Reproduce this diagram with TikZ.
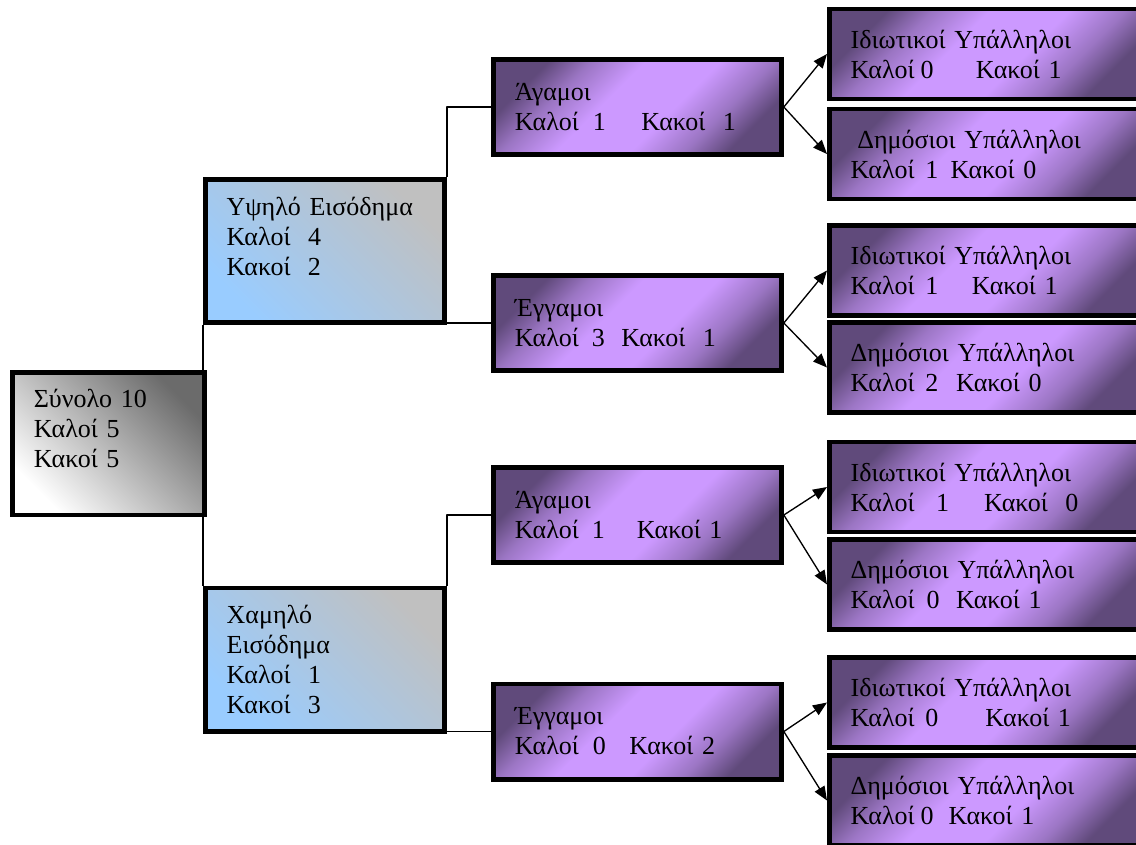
\documentclass[tikz,border=0pt]{standalone}
\usepackage{fontspec}
\setmainfont{Liberation Serif}
\usetikzlibrary{arrows.meta}
\definecolor{lilac}{RGB}{204,153,255}
\definecolor{plum}{RGB}{96,74,123}
\definecolor{skyb}{RGB}{153,204,255}
\definecolor{silver}{RGB}{192,192,192}
\pgfdeclareverticalshading{lavender}{100bp}{color(0bp)=(plum); color(25bp)=(plum); color(33bp)=(plum!45!lilac); color(43bp)=(lilac); color(57bp)=(lilac); color(67bp)=(plum!45!lilac); color(75bp)=(plum); color(100bp)=(plum)}
% Καλοί ... Κακοί σε σταθερές θέσεις
\newcommand\kalkak[4]{\makebox[#1pt][l]{Καλοί}\makebox[\dimexpr#3pt-#1pt\relax][l]{#2}Κακοί#4}
\begin{document}
\begin{tikzpicture}[x=.75pt,y=-.75pt,>={Triangle[length=10.5pt,width=8.5pt]},
	font=\fontsize{19.5}{22.5}\selectfont, line join=round,
	box/.style={draw, line width=3.5pt, line join=miter, align=left, inner xsep=16pt, inner ysep=0pt},
	rootbox/.style={box, text width=112pt, minimum height=107pt, top color=black!58, bottom color=white, shading angle=-45},
	incbox/.style={box, text width=147.5pt, minimum height=107.5pt, top color=silver, bottom color=skyb, shading angle=-45},
	marbox/.style={box, text width=184pt, minimum height=71.5pt, shade, shading=lavender, shading angle=45},
	jobbox/.style={marbox, text width=203pt, minimum height=67.7pt},
	link/.style={line width=1pt},
	arr/.style={link, ->}]
	\useasboundingbox (0,0) rectangle (1136,844);
	% ρίζα και εισόδημα
	\node[rootbox] (all) at (108.5,443.5) {Σύνολο 10\\Καλοί 5\\Κακοί 5\\ \mbox{}};
	\node[incbox] (hi) at (325,251) {Υψηλό Εισόδημα\\Καλοί~~4\\Κακοί~~2\\ \mbox{}};
	\node[incbox] (lo) at (325,659.5) {Χαμηλό\\Εισόδημα\\Καλοί~~1\\Κακοί~~3};
	% οικογενειακή κατάσταση
	\node[marbox] (a1) at (637.5,107) {Άγαμοι\\\kalkak{58.5}{1}{95}{~~1}};
	\node[marbox] (e1) at (637.5,323) {Έγγαμοι\\\kalkak{57.75}{3}{80}{~~1}};
	\node[marbox] (a2) at (637.5,515) {Άγαμοι\\\kalkak{57.75}{1}{91.5}{ 1}};
	\node[marbox] (e2) at (637.5,731.5) {Έγγαμοι\\\kalkak{58.5}{0}{86}{ 2}};
	% υπάλληλοι
	\node[jobbox] (l1a) at (986,54) {Ιδιωτικοί Υπάλληλοι\\\kalkak{52.5}{0}{94}{ 1}};
	\node[jobbox] (l1b) at (986,154) {\hspace*{5pt}Δημόσιοι Υπάλληλοι\\\kalkak{56}{1}{75}{ 0}};
	\node[jobbox] (l2a) at (986,270.5) {Ιδιωτικοί Υπάλληλοι\\\kalkak{56}{1}{91}{ 1}};
	\node[jobbox] (l2b) at (986,367.5) {Δημόσιοι Υπάλληλοι\\\kalkak{56}{2}{79}{ 0}};
	\node[jobbox] (l3a) at (986,487) {Ιδιωτικοί Υπάλληλοι\\\kalkak{64}{1}{100}{~~0}};
	\node[jobbox] (l3b) at (986,584.5) {Δημόσιοι Υπάλληλοι\\\kalkak{57}{0}{79}{ 1}};
	\node[jobbox] (l4a) at (986,702.5) {Ιδιωτικοί Υπάλληλοι\\\kalkak{56}{0}{101}{ 1}};
	\node[jobbox] (l4b) at (986,800.5) {Δημόσιοι Υπάλληλοι\\\kalkak{52.5}{0}{73.5}{ 1}};
	% γραμμές
	\draw[link] (hi.south west) -- (lo.north west);
	\draw[link] (hi.north east) |- (a1.west);
	\draw[link] (e1.west) -- (e1.west -| hi.east);
	\draw[link] (lo.north east) |- (a2.west);
	\draw[link] (e2.west) -- (e2.west -| lo.east);
	\foreach \m/\p/\q in {a1/l1a/l1b, e1/l2a/l2b, a2/l3a/l3b, e2/l4a/l4b}{
		\draw[arr] (\m.east) -- (\p.west);
		\draw[arr] (\m.east) -- (\q.west);
	}
\end{tikzpicture}
\end{document}
